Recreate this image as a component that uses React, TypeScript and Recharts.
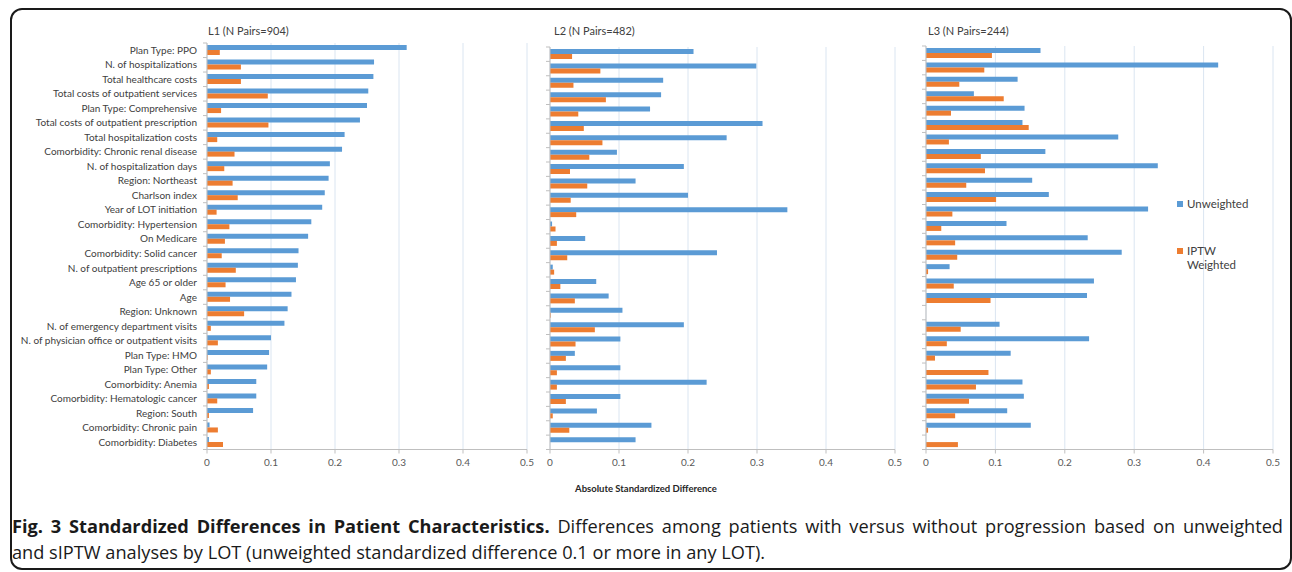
import { BarChart, Bar, XAxis, YAxis, CartesianGrid } from "recharts";

const categories = [
  "Plan Type: PPO",
  "N. of hospitalizations",
  "Total healthcare costs",
  "Total costs of outpatient services",
  "Plan Type: Comprehensive",
  "Total costs of outpatient prescription",
  "Total hospitalization costs",
  "Comorbidity: Chronic renal disease",
  "N. of hospitalization days",
  "Region: Northeast",
  "Charlson index",
  "Year of LOT initiation",
  "Comorbidity: Hypertension",
  "On Medicare",
  "Comorbidity: Solid cancer",
  "N. of outpatient prescriptions",
  "Age 65 or older",
  "Age",
  "Region: Unknown",
  "N. of emergency department visits",
  "N. of physician office or outpatient visits",
  "Plan Type: HMO",
  "Plan Type: Other",
  "Comorbidity: Anemia",
  "Comorbidity: Hematologic cancer",
  "Region: South",
  "Comorbidity: Chronic pain",
  "Comorbidity: Diabetes",
];

const l1Unweighted = [0.312, 0.261, 0.26, 0.252, 0.25, 0.239, 0.215, 0.211, 0.192, 0.19, 0.184, 0.18, 0.163, 0.158, 0.143, 0.142, 0.139, 0.132, 0.126, 0.121, 0.1, 0.097, 0.094, 0.077, 0.077, 0.072, 0.004, 0.003];
const l1Weighted = [0.02, 0.053, 0.053, 0.095, 0.022, 0.096, 0.016, 0.043, 0.027, 0.04, 0.048, 0.015, 0.035, 0.028, 0.023, 0.045, 0.029, 0.036, 0.058, 0.006, 0.017, 0.001, 0.006, 0.003, 0.016, 0.003, 0.017, 0.025];

const l2Unweighted = [0.208, 0.299, 0.164, 0.161, 0.145, 0.308, 0.256, 0.097, 0.194, 0.124, 0.2, 0.344, 0.003, 0.051, 0.242, 0.004, 0.067, 0.085, 0.105, 0.194, 0.102, 0.036, 0.102, 0.227, 0.102, 0.068, 0.147, 0.124];
const l2Weighted = [0.032, 0.073, 0.034, 0.081, 0.041, 0.049, 0.076, 0.057, 0.029, 0.054, 0.03, 0.038, 0.008, 0.01, 0.025, 0.006, 0.015, 0.036, 0.001, 0.065, 0.037, 0.023, 0.01, 0.01, 0.023, 0.004, 0.028, 0];

const l3Unweighted = [0.165, 0.421, 0.132, 0.069, 0.142, 0.139, 0.277, 0.172, 0.334, 0.153, 0.177, 0.32, 0.116, 0.233, 0.282, 0.034, 0.242, 0.232, 0, 0.106, 0.235, 0.122, 0, 0.139, 0.141, 0.117, 0.151, 0];
const l3Weighted = [0.095, 0.084, 0.048, 0.112, 0.036, 0.148, 0.033, 0.079, 0.085, 0.058, 0.101, 0.038, 0.022, 0.042, 0.045, 0.003, 0.04, 0.093, 0, 0.05, 0.03, 0.013, 0.09, 0.072, 0.062, 0.042, 0.003, 0.046];

const xTicks = [0, 0.1, 0.2, 0.3, 0.4, 0.5];
const seriesNames = ["Unweighted", "IPTW Weighted"];

const BLUE = "#5B9BD5";
const ORANGE = "#ED7D31";
const AXIS = "#BFBFBF";
const GRID = "#DAE5F1";
const TEXT = "#404040";
const FONT = "Lato, 'Open Sans', sans-serif";

const CHART_HEIGHT = 480;
const X_AXIS_HEIGHT = 30;
const MARGIN_BOTTOM = 0.5;

function buildRows(unweighted: number[], weighted: number[]) {
  return categories.map((name, i) => ({
    name,
    unweighted: unweighted[i],
    weighted: weighted[i],
  }));
}

// Excel-style category ticks: short marks between categories, labels right-aligned
function CategoryTick(props: any) {
  const { x, y, payload, index, band, showLabel } = props;
  const axisX = x + 10;
  return (
    <g>
      <line x1={axisX - 4} x2={axisX} y1={y + band / 2} y2={y + band / 2} stroke={AXIS} />
      {index === 0 && (
        <line x1={axisX - 4} x2={axisX} y1={y - band / 2} y2={y - band / 2} stroke={AXIS} />
      )}
      {showLabel && (
        <text
          x={x}
          y={y}
          dy={3.5}
          textAnchor="end"
          fill={TEXT}
          fontSize={10}
          fontFamily={FONT}
        >
          {payload.value}
        </text>
      )}
    </g>
  );
}

interface PanelProps {
  left: number;
  width: number;
  top: number;
  right: number;
  yWidth: number;
  showLabels: boolean;
  data: { name: string; unweighted: number; weighted: number }[];
}

function Panel({ left, width, top, right, yWidth, showLabels, data }: PanelProps) {
  const plotHeight = CHART_HEIGHT - top - MARGIN_BOTTOM - X_AXIS_HEIGHT;
  const band = plotHeight / data.length;
  return (
    <div style={{ position: "absolute", left, top: 0 }}>
      <BarChart
        width={width}
        height={CHART_HEIGHT}
        data={data}
        layout="vertical"
        margin={{ top, right, left: 0, bottom: MARGIN_BOTTOM }}
        barSize={5}
        barGap={0}
      >
        <CartesianGrid horizontal={false} stroke={GRID} />
        <XAxis
          type="number"
          domain={[0, 0.5]}
          ticks={xTicks}
          height={X_AXIS_HEIGHT}
          stroke={AXIS}
          tickSize={4}
          tickMargin={5}
          tick={{ fill: "#595959", fontSize: 10, fontFamily: FONT }}
        />
        <YAxis
          type="category"
          dataKey="name"
          width={yWidth}
          stroke={AXIS}
          tickLine={false}
          tickSize={4}
          tickMargin={6}
          interval={0}
          tick={(p: any) => <CategoryTick {...p} band={band} showLabel={showLabels} />}
        />
        <Bar dataKey="unweighted" name={seriesNames[0]} fill={BLUE} isAnimationActive={false} />
        <Bar dataKey="weighted" name={seriesNames[1]} fill={ORANGE} isAnimationActive={false} />
      </BarChart>
    </div>
  );
}

const titleStyle: React.CSSProperties = {
  position: "absolute",
  top: 24,
  fontFamily: FONT,
  fontSize: 11,
  color: TEXT,
  whiteSpace: "nowrap",
};

function LegendItem({ color, label, top }: { color: string; label: string; top: number }) {
  return (
    <div
      style={{
        position: "absolute",
        left: 1177,
        top,
        display: "flex",
        alignItems: "flex-start",
        fontFamily: FONT,
        fontSize: 11.5,
        color: TEXT,
      }}
    >
      <span
        style={{
          display: "inline-block",
          width: 6,
          height: 6,
          background: color,
          marginTop: 4,
          marginRight: 4,
          flexShrink: 0,
        }}
      />
      <span style={{ width: 62, lineHeight: "14px" }}>{label}</span>
    </div>
  );
}

const captionStyle: React.CSSProperties = {
  position: "absolute",
  left: 12,
  fontFamily: "'Open Sans', sans-serif",
  fontSize: 18.2,
  lineHeight: "22px",
  color: "#1a1a1a",
  whiteSpace: "nowrap",
};

export default function App() {
  return (
    <div
      style={{
        position: "absolute",
        left: 0,
        top: 0,
        width: 1292,
        height: 572,
        background: "#fff",
        overflow: "hidden",
      }}
    >
      <div
        style={{
          position: "absolute",
          left: 10,
          top: 8,
          width: 1282,
          height: 562,
          border: "2px solid #1a1a1a",
          borderRadius: 12,
          boxSizing: "border-box",
        }}
      />
      <Panel left={0} width={540} top={43} right={13} yWidth={207} showLabels data={buildRows(l1Unweighted, l1Weighted)} />
      <Panel left={540} width={370} top={47} right={15} yWidth={10} showLabels={false} data={buildRows(l2Unweighted, l2Weighted)} />
      <Panel left={916} width={372} top={46} right={15} yWidth={10} showLabels={false} data={buildRows(l3Unweighted, l3Weighted)} />

      <div style={{ ...titleStyle, left: 208 }}>L1 (N Pairs=904)</div>
      <div style={{ ...titleStyle, left: 554 }}>L2 (N Pairs=482)</div>
      <div style={{ ...titleStyle, left: 928 }}>L3 (N Pairs=244)</div>

      <LegendItem color={BLUE} label={seriesNames[0]} top={197} />
      <LegendItem color={ORANGE} label={seriesNames[1]} top={244} />

      <div
        style={{
          position: "absolute",
          left: 0,
          width: 1292,
          top: 483,
          textAlign: "center",
          fontFamily: FONT,
          fontSize: 9.5,
          fontWeight: 700,
          color: "#262626",
        }}
      >
        Absolute Standardized Difference
      </div>

      <div style={{ ...captionStyle, top: 515, width: 1271, textAlign: "justify", textAlignLast: "justify" }}>
        <b>Fig. 3 Standardized Differences in Patient Characteristics.</b> Differences among patients with versus without
        progression based on unweighted
      </div>
      <div style={{ ...captionStyle, top: 541 }}>
        and sIPTW analyses by LOT (unweighted standardized difference 0.1 or more in any LOT).
      </div>
    </div>
  );
}
